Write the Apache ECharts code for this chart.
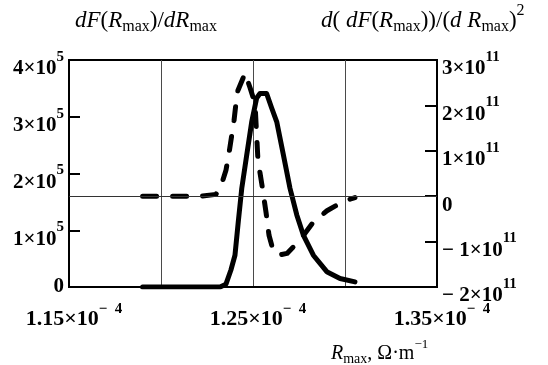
<!DOCTYPE html>
<html><head><meta charset="utf-8">
<script src="https://cdn.jsdelivr.net/npm/echarts@6/dist/echarts.min.js"></script>
<style>html,body{margin:0;padding:0;background:#fff}#c{width:548px;height:365px}</style>
</head><body><div id="c"></div>
<script>
// R_max in units of 1e-4 Ohm*m^-1
const rmaxSolid = [1.190, 1.2321, 1.2353, 1.2380, 1.2402, 1.2420, 1.2439, 1.2466, 1.2493, 1.2520, 1.2538, 1.2574, 1.2602, 1.2629, 1.2665, 1.2701, 1.2738, 1.2773, 1.2828, 1.2901, 1.2973, 1.3054];
// dF(Rmax)/dRmax in units of 1e5 (left axis)
const dFdR = [0, 0, 0.05, 0.30, 0.56, 1.15, 1.74, 2.33, 2.91, 3.33, 3.41, 3.41, 3.15, 2.91, 2.33, 1.74, 1.27, 0.92, 0.56, 0.27, 0.15, 0.09];
// R_max in units of 1e-4 for the dashed curve
const rmaxDashed = [1.190, 1.2212, 1.2299, 1.2332, 1.2353, 1.2370, 1.2386, 1.2397, 1.2408, 1.2418, 1.2457, 1.2484, 1.2511, 1.2527, 1.2549, 1.2571, 1.2587, 1.2609, 1.2636, 1.2685, 1.2755, 1.2826, 1.2902, 1.2989, 1.3054];
// d(dF(Rmax))/(dRmax)^2 in units of 1e11 (right axis)
const d2F = [0, 0, 0.04, 0.30, 0.57, 0.96, 1.38, 1.67, 2.07, 2.33, 2.71, 2.39, 2.04, 0.79, 0.24, -0.36, -0.86, -1.19, -1.30, -1.26, -0.97, -0.58, -0.32, -0.12, -0.03];

// tick labels ("base^superscript")
const leftTickValues = [0, 1, 2, 3, 4];
const leftTickLabels = ['0', '1×10^5', '2×10^5', '3×10^5', '4×10^5'];
const rightTickValues = [-2, -1, 0, 1, 2, 3];
const rightTickLabels = ['− 2×10^11', '− 1×10^11', '0', '1×10^11', '2×10^11', '3×10^11'];
const xTickValues = [1.15, 1.25, 1.35];
const xTickLabels = ['1.15×10^−  4', '1.25×10^−  4', '1.35×10^−  4'];

const F = "'Liberation Serif','Times New Roman',serif";

function rich(label) {
  if (label.indexOf('^') < 0) return '{b|' + label + '}';
  const p = label.split('^');
  return '{b|' + p[0] + '}{s|' + p[1] + '}';
}
function lookup(vals, labels, v) {
  for (let i = 0; i < vals.length; i++) if (Math.abs(vals[i] - v) < 1e-6) return labels[i];
  return '';
}

const yRich = {
  b: {fontFamily: F, fontSize: 21, fontWeight: 'bold', color: '#000', lineHeight: 21, padding: [9, 0, 0, 0], verticalAlign: 'top'},
  s: {fontFamily: F, fontSize: 15, fontWeight: 'bold', color: '#000', lineHeight: 15, verticalAlign: 'top'},
  z: {fontFamily: F, fontSize: 21, fontWeight: 'bold', color: '#000', lineHeight: 21}
};
const xRich = {
  b: {fontFamily: F, fontSize: 22, fontWeight: 'bold', color: '#000', lineHeight: 22, padding: [6, 0, 0, 10], verticalAlign: 'top'},
  s: {fontFamily: F, fontSize: 15, fontWeight: 'bold', color: '#000', lineHeight: 15, verticalAlign: 'top'}
};

const tRich = {
  i: {fontFamily: F, fontSize: 23, fontStyle: 'italic', color: '#000', lineHeight: 23, padding: [6, 0, 0, 0], verticalAlign: 'top'},
  n: {fontFamily: F, fontSize: 23, color: '#000', lineHeight: 23, padding: [6, 0, 0, 0], verticalAlign: 'top'},
  sub: {fontFamily: F, fontSize: 16, color: '#000', lineHeight: 16, padding: [16, 0, 0, 0], verticalAlign: 'top'},
  sup: {fontFamily: F, fontSize: 16, color: '#000', lineHeight: 16, verticalAlign: 'top'}
};
const bRich = {
  i: {fontFamily: F, fontSize: 20, fontStyle: 'italic', color: '#000', lineHeight: 20, padding: [6, 0, 0, 0], verticalAlign: 'top'},
  n: {fontFamily: F, fontSize: 20, color: '#000', lineHeight: 20, padding: [6, 0, 0, 0], verticalAlign: 'top'},
  sub: {fontFamily: F, fontSize: 14, color: '#000', lineHeight: 14, padding: [14, 0, 0, 0], verticalAlign: 'top'},
  sup: {fontFamily: F, fontSize: 13, color: '#000', lineHeight: 13, verticalAlign: 'top'}
};

const chart = echarts.init(document.getElementById('c'), null, {renderer: 'canvas'});
chart.setOption({
  animation: false,
  backgroundColor: '#fff',
  grid: {left: 69, right: 111, top: 60, bottom: 78, show: true, borderColor: '#000', borderWidth: 2, backgroundColor: 'transparent'},
  xAxis: {
    type: 'value', min: 1.15, max: 1.35, interval: 0.05,
    axisLine: {show: true, lineStyle: {color: '#000', width: 2}},
    axisTick: {show: false},
    splitLine: {show: true, lineStyle: {color: '#4a4a4a', width: 1}},
    axisLabel: {margin: 15, formatter: v => { const l = lookup(xTickValues, xTickLabels, v); return l ? rich(l) : ''; }, rich: xRich}
  },
  yAxis: [{
    type: 'value', min: 0, max: 4, interval: 1, position: 'left',
    axisLine: {show: true, lineStyle: {color: '#000', width: 2}},
    axisTick: {show: true, inside: true, length: 11, lineStyle: {color: '#000', width: 2}},
    splitLine: {show: false},
    axisLabel: {margin: 5, formatter: v => { const l = lookup(leftTickValues, leftTickLabels, v); return l === '0' ? '{z|0}' : rich(l); }, rich: yRich}
  }, {
    type: 'value', min: -2, max: 3, interval: 1, position: 'right',
    axisLine: {show: true, lineStyle: {color: '#000', width: 2}},
    axisTick: {show: true, inside: true, length: 12, lineStyle: {color: '#000', width: 2}},
    splitLine: {show: false},
    axisLabel: {margin: 5, formatter: v => rich(lookup(rightTickValues, rightTickLabels, v)), rich: yRich}
  }],
  series: [{
    type: 'line', yAxisIndex: 0, symbol: 'none', smooth: false,
    data: rmaxSolid.map((x, i) => [x, dFdR[i]]),
    lineStyle: {color: '#000', width: 5, cap: 'round', join: 'round'},
    z: 3
  }, {
    type: 'line', yAxisIndex: 1, symbol: 'none', smooth: false,
    data: rmaxDashed.map((x, i) => [x, d2F[i]]),
    lineStyle: {color: '#000', width: 5, type: [14, 16], cap: 'round', join: 'round'},
    markLine: {silent: true, symbol: 'none', label: {show: false}, lineStyle: {color: '#333', width: 1, type: 'solid'}, data: [{yAxis: 0}]},
    z: 4
  }],
  graphic: [
    {type: 'text', left: 75, top: 3, style: {text: '{i|dF}{n|(}{i|R}{sub|max}{n|)/}{i|dR}{sub|max}', rich: tRich}},
    {type: 'text', left: 321, top: 3, style: {text: '{i|d}{n|( }{i|dF}{n|(}{i|R}{sub|max}{n|))/(}{i|d R}{sub|max}{n|)}{sup|2}', rich: tRich}},
    {type: 'text', left: 331, top: 338, style: {text: '{i|R}{sub|max}{n|, Ω·m}{sup|−1}', rich: bRich}}
  ]
});
</script></body></html>
